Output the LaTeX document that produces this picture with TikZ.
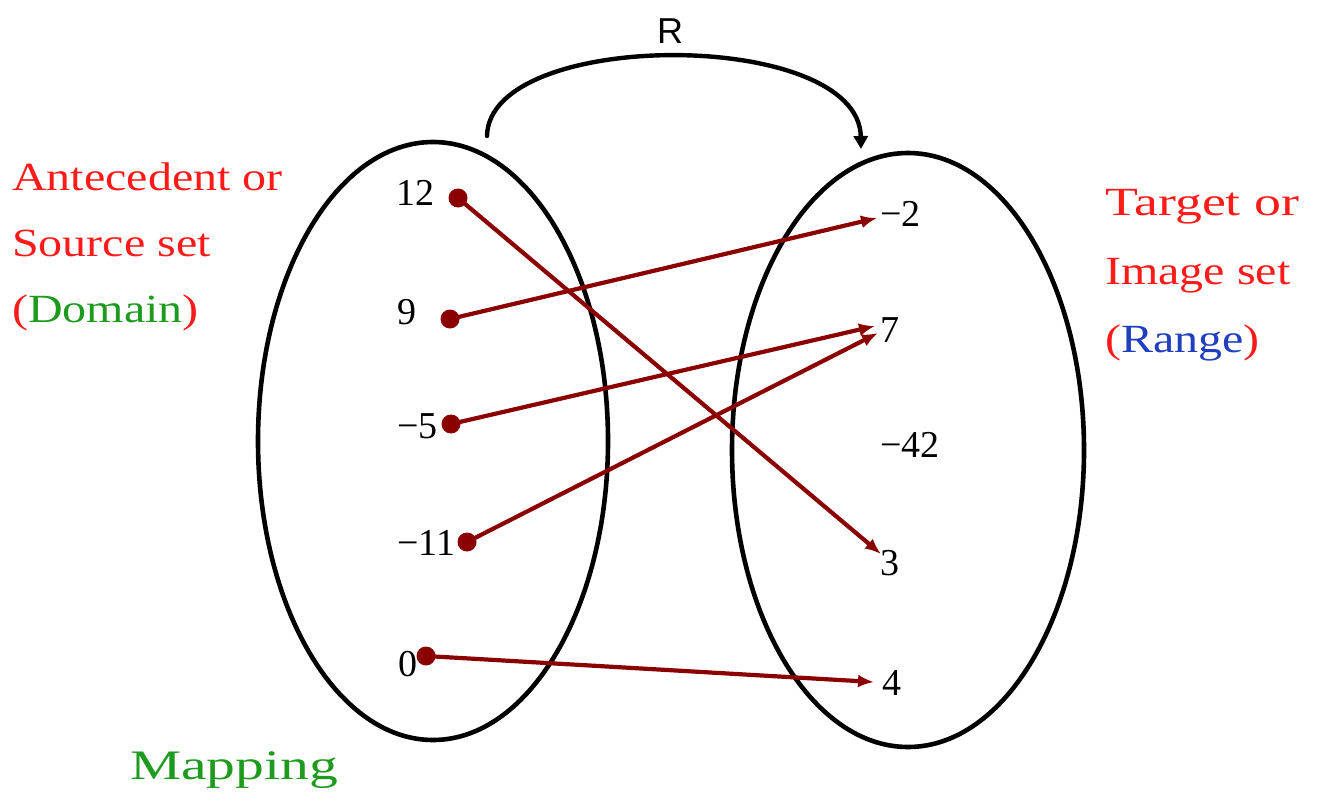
\documentclass[tikz,border=0pt]{standalone}
\usepackage{fontspec}
\setmainfont{Liberation Serif}
\newfontfamily\papy[FakeStretch=1.2]{Liberation Serif}
\newfontfamily\arialf{Liberation Sans}
\usetikzlibrary{arrows.meta}
\definecolor{maproon}{HTML}{8B0000}
\definecolor{lblred}{HTML}{FF1A1A}
\definecolor{lblgreen}{HTML}{1E9A1E}
\definecolor{lblblue}{HTML}{1F3FBF}
\begin{document}
\begin{tikzpicture}[x=1pt,y=-1pt,
  setline/.style={line width=4.6pt, black},
  dotnode/.style={circle, fill=maproon, inner sep=0pt, minimum size=19pt},
  maparrow/.style={draw=maproon, line width=4.2pt, -{Latex[length=16pt,width=13pt]}},
  num/.style={font=\fontsize{38}{40}\selectfont, inner sep=0pt, anchor=base west},
  lbl/.style={font=\papy\fontsize{40}{44}\selectfont, inner sep=0pt, anchor=base west}]
\useasboundingbox (0,0) rectangle (1321,800);
% sets
\draw[setline] (433,441) ellipse [x radius=175, y radius=299];
\draw[setline] (908,450) ellipse [x radius=176, y radius=297];
% relation arrow R
\coordinate (rs) at (487,136);
\coordinate (re) at (861,149);
\draw[line width=4.4pt, line cap=round, -{Triangle[length=13pt,width=14pt]}] (rs) .. controls (489,28) and (859,28) .. (re);
\node[font=\arialf\fontsize{36}{40}\selectfont, inner sep=0pt, anchor=base] (R) at (670,44) {R};
% domain numbers
\node[num] (n12) at (396,205) {12};
\node[num] (n9) at (397,324) {9};
\node[num] (nm5) at (397,438) {−5};
\node[num] (nm11) at (397,555) {−11};
\node[num] (n0) at (398,676) {0};
% range numbers
\node[num] (rm2) at (880,226) {−2};
\node[num] (r7) at (880,342) {7};
\node[num] (rm42) at (880,457) {−42};
\node[num] (r3) at (880,575) {3};
\node[num] (r4) at (882,695) {4};
% dots
\node[dotnode] (d12) at (458,198) {};
\node[dotnode] (d9) at (450,319) {};
\node[dotnode] (dm5) at (451,424) {};
\node[dotnode] (dm11) at (467,542) {};
\node[dotnode] (d0) at (426,656) {};
% arrow tips
\coordinate (tm2) at (877,218);
\coordinate (t7a) at (875,326);
\coordinate (t7b) at (878,333);
\coordinate (t3) at (881,554);
\coordinate (t4) at (874,682);
\draw[maparrow] (d12.center) -- (t3);
\draw[maparrow] (d9.center) -- (tm2);
\draw[maparrow] (dm5.center) -- (t7a);
\draw[maparrow] (dm11.center) -- (t7b);
\draw[maparrow] (d0.center) -- (t4);
% labels
\node[lbl, text=lblred] (a1) at (12,190) {Antecedent or};
\node[lbl, text=lblred] (a2) at (12,256) {Source set};
\node[lbl] (a3) at (12,322) {\textcolor{lblred}{(}\textcolor{lblgreen}{Domain}\textcolor{lblred}{)}};
\node[lbl, text=lblred] (b1) at (1105,215) {\scalebox{1.12}[1]{Target or}};
\node[lbl, text=lblred] (b2) at (1105,284) {Image set};
\node[lbl] (b3) at (1105,352) {\textcolor{lblred}{(}\textcolor{lblblue}{Range}\textcolor{lblred}{)}};
\node[lbl, text=lblgreen] (mp) at (130,779) {\scalebox{1.2}[1.05]{Mapping}};
\end{tikzpicture}
\end{document}
